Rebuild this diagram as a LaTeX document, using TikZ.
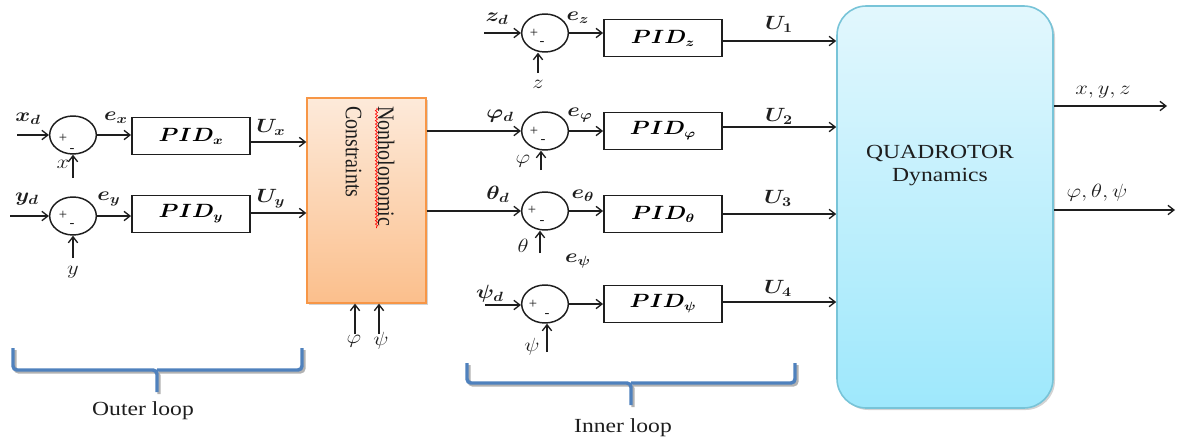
\documentclass[tikz,border=0pt]{standalone}
\usepackage{fontspec}
\setmainfont{Liberation Serif}
\usepackage{amsmath,bm,graphicx}
\usetikzlibrary{arrows.meta,shapes.geometric,shadows,decorations.pathmorphing}
\newcommand\hs[1]{\scalebox{1.18}[1]{#1}}
\definecolor{nhtop}{RGB}{253,234,218}
\definecolor{nhbot}{RGB}{251,191,140}
\definecolor{nhdraw}{RGB}{247,150,70}
\definecolor{qtop}{RGB}{226,247,253}
\definecolor{qbot}{RGB}{158,232,252}
\definecolor{qdraw}{RGB}{120,196,216}
\definecolor{brc}{RGB}{79,129,189}
\definecolor{ink}{RGB}{30,30,30}
\begin{document}
\begin{tikzpicture}[x=0.75pt,y=-0.75pt,
  ln/.style={draw=ink, line width=1pt},
  arr/.style={ln, -{Straight Barb[length=4.5pt,width=7pt]}},
  sumnode/.style={ellipse, draw=ink, line width=1.1pt, minimum width=35pt, minimum height=28.5pt, inner sep=0pt},
  pidbox/.style={rectangle, draw=ink, line width=1.4pt, minimum width=88.5pt, minimum height=27.75pt, inner sep=0pt, font=\fontsize{13.5}{15}\selectfont},
  lbl/.style={inner sep=0pt, text=ink, font=\fontsize{14}{16}\selectfont},
  sgn/.style={inner sep=0pt, text=ink, font=\fontsize{11}{12}\selectfont},
  brace/.style={draw=brc, line width=2.6pt, rounded corners=3pt},
  braceshadow/.style={draw=black!30, line width=2.6pt, rounded corners=3pt},
  word/.style={inner sep=0pt, text=ink, font=\fontsize{15}{18}\selectfont}]
\useasboundingbox (0,0) rectangle (1177,439);

% ---------- big blocks ----------
\node[draw=nhdraw, line width=1pt, top color=nhtop, bottom color=nhbot,
  minimum width=89.25pt, minimum height=153.75pt, inner sep=0pt,
  drop shadow={shadow xshift=1.5pt, shadow yshift=-1.5pt, opacity=0.35}] (nh) at (366.5,200.5) {};
\node[rotate=-90, anchor=north west, inner sep=0pt, text=ink,
  font=\fontsize{15}{20.5}\selectfont] (nhtxt) at (401,106)
  {\scalebox{1}[1.18]{\begin{tabular}{@{}l@{}}Nonholonomic\\Constraints\end{tabular}}};
\draw[red, line width=0.5pt, decorate, decoration={snake, amplitude=0.8pt, segment length=2.5pt}] (376.5,108) -- (376.5,228);

\node[draw=qdraw, line width=1.2pt, top color=qtop, bottom color=qbot, rounded corners=22pt,
  minimum width=162pt, minimum height=301.5pt, inner sep=0pt,
  drop shadow={shadow xshift=1.5pt, shadow yshift=-1.5pt, opacity=0.35}] (quad) at (945,207) {};
\node[word] (qt1) at (940,153) {\hs{QUADROTOR}};
\node[word] (qt2) at (940,177) {\hs{Dynamics}};

% ---------- outer loop ----------
\node[sumnode] (s1) at (73,135) {};
\node[sumnode] (s2) at (73,216) {};
\node[pidbox] (px) at (191,136) {\hs{$\bm{PID_x}$}};
\node[pidbox] (py) at (191,214) {\hs{$\bm{PID_y}$}};

\node[sgn] (s1p) at (63,138) {+};
\node[sgn] (s1m) at (72,150) {-};
\node[sgn] (s2p) at (63,215) {+};
\node[sgn] (s2m) at (72,225) {-};

\coordinate (xin) at (17,135);
\coordinate (yin) at (10,216);
\coordinate (xfb) at (73,178);
\coordinate (yfb) at (73,258);
\draw[arr] (xin) -- (s1.west);
\draw[arr] (s1.east) -- (s1.east -| px.west);
\draw[arr] (px.east |- 0,142) -- (nh.west |- 0,142);
\draw[arr] (xfb) -- (s1.south);
\draw[arr] (yin) -- (s2.west);
\draw[arr] (s2.east) -- (s2.east -| py.west);
\draw[arr] (py.east |- 0,213) -- (nh.west |- 0,213);
\draw[arr] (yfb) -- (s2.south);

\node[lbl] (lxd) at (28,119) {\hs{$\bm{x_d}$}};
\node[lbl] (lex) at (116,118) {\hs{$\bm{e_x}$}};
\node[lbl] (lux) at (271,127) {\hs{$\bm{U_x}$}};
\node[lbl] (lx) at (63,164) {\hs{$x$}};
\node[lbl] (lyd) at (27,199) {\hs{$\bm{y_d}$}};
\node[lbl] (ley) at (109,199) {\hs{$\bm{e_y}$}};
\node[lbl] (luy) at (271,199) {\hs{$\bm{U_y}$}};
\node[lbl] (ly) at (73,272) {\hs{$y$}};

% inputs below constraints block
\coordinate (nphi) at (355,334);
\coordinate (npsi) at (379,334);
\draw[arr] (nphi) -- (nphi |- nh.south);
\draw[arr] (npsi) -- (npsi |- nh.south);
\node[lbl] (lnphi) at (354,341) {\hs{$\varphi$}};
\node[lbl] (lnpsi) at (381,341) {\hs{$\psi$}};

% ---------- inner loop ----------
\node[sumnode] (sz) at (545,33) {};
\node[sumnode] (sp) at (545,131) {};
\node[sumnode] (st) at (545,211) {};
\node[sumnode] (ss) at (545,304) {};
\node[pidbox] (pz) at (663,38) {\hs{$\bm{PID_z}$}};
\node[pidbox] (pp) at (663,131) {\hs{$\bm{PID_\varphi}$}};
\node[pidbox] (pt) at (663,214) {\hs{$\bm{PID_\theta}$}};
\node[pidbox] (ps) at (663,304) {\hs{$\bm{PID_\psi}$}};

\node[sgn] (szp) at (534,33) {+};
\node[sgn] (szm) at (542,43) {-};
\node[sgn] (spp) at (534,131) {+};
\node[sgn] (spm) at (543,141) {-};
\node[sgn] (stp) at (532,210) {+};
\node[sgn] (stm) at (542,222) {-};
\node[sgn] (ssp) at (533,304) {+};
\node[sgn] (ssm) at (547,315) {-};

\coordinate (zin) at (484,33);
\coordinate (psin) at (485,305);
\coordinate (zfb) at (538,73);
\coordinate (pfb) at (541,170);
\coordinate (tfb) at (540,253);
\coordinate (sfb) at (547,352);

\draw[arr] (zin) -- (zin -| sz.west);
\draw[arr] (sz.east) -- (sz.east -| pz.west);
\draw[arr] (zfb) -- (zfb |- sz.south);
\draw[arr] (nh.east |- sp.west) -- (sp.west);
\draw[arr] (sp.east) -- (sp.east -| pp.west);
\draw[arr] (pfb) -- (pfb |- sp.south);
\draw[arr] (nh.east |- st.west) -- (st.west);
\draw[arr] (st.east) -- (st.east -| pt.west);
\draw[arr] (tfb) -- (tfb |- st.south);
\draw[arr] (psin) -- (psin -| ss.west);
\draw[arr] (ss.east) -- (ss.east -| ps.west);
\draw[arr] (sfb) -- (sfb |- ss.south);

\draw[arr] (pz.east |- 0,41) -- (quad.west |- 0,41);
\draw[arr] (pp.east |- 0,127) -- (quad.west |- 0,127);
\draw[arr] (pt.east |- 0,214) -- (quad.west |- 0,214);
\draw[arr] (ps.east |- 0,302) -- (quad.west |- 0,302);

\node[lbl] (lzd) at (497,19) {\hs{$\bm{z_d}$}};
\node[lbl] (lez) at (578,18) {\hs{$\bm{e_z}$}};
\node[lbl] (lu1) at (779,24) {\hs{$\bm{U_1}$}};
\node[lbl] (lz) at (538,84) {\hs{$z$}};
\node[lbl] (lpd) at (500,116) {\hs{$\bm{\varphi_d}$}};
\node[lbl] (lep) at (580,115) {\hs{$\bm{e_\varphi}$}};
\node[lbl] (lu2) at (779,116) {\hs{$\bm{U_2}$}};
\node[lbl] (lp) at (523,161) {\hs{$\varphi$}};
\node[lbl] (ltd) at (498,194) {\hs{$\bm{\theta_d}$}};
\node[lbl] (let) at (583,196) {\hs{$\bm{e_\theta}$}};
\node[lbl] (lu3) at (778,198) {\hs{$\bm{U_3}$}};
\node[lbl] (lt) at (523,246) {\hs{$\theta$}};
\node[lbl] (les) at (578,261) {\hs{$\bm{e_\psi}$}};
\node[lbl] (lsd) at (490,294) {\hs{$\bm{\psi_d}$}};
\node[lbl] (lu4) at (778,288) {\hs{$\bm{U_4}$}};
\node[lbl] (ls) at (532,347) {\hs{$\psi$}};

% ---------- outputs ----------
\coordinate (o1) at (1167,106);
\coordinate (o2) at (1175,210);
\draw[arr] (quad.east |- o1) -- (o1);
\draw[arr] (quad.east |- o2) -- (o2);
\node[lbl] (lo1) at (1103,92) {\hs{$x, y, z$}};
\node[lbl] (lo2) at (1097,193) {\hs{$\varphi, \theta, \psi$}};

% ---------- braces ----------
\draw[braceshadow] (15,350) -- (15,372) -- (159,372) -- (159,394);
\draw[braceshadow] (159,372) -- (304,372) -- (304,350);
\draw[brace] (13,348) -- (13,370) -- (157,370) -- (157,392);
\draw[brace] (157,370) -- (302,370) -- (302,348);
\node[word] (outer) at (143,411) {\hs{Outer loop}};

\draw[braceshadow] (469,365) -- (469,385) -- (633,385) -- (633,407);
\draw[braceshadow] (633,385) -- (797,385) -- (797,365);
\draw[brace] (467,363) -- (467,383) -- (631,383) -- (631,405);
\draw[brace] (631,383) -- (795,383) -- (795,363);
\node[word] (inner) at (623,428) {\hs{Inner loop}};
\end{tikzpicture}
\end{document}
